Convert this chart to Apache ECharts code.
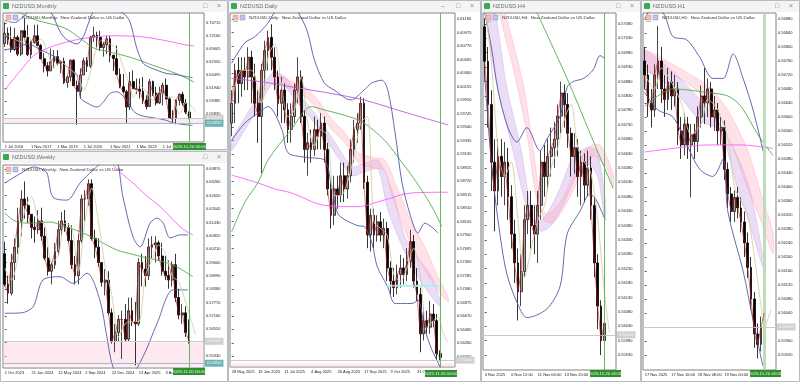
<!DOCTYPE html>
<html><head><meta charset="utf-8">
<script src="https://cdn.jsdelivr.net/npm/echarts@6/dist/echarts.min.js"></script>
<style>html,body{margin:0;padding:0;background:#dfe3e8}#c{width:800px;height:382px}</style>
</head><body><div id="c"></div><script>
// ================= DATA =================
const currentPrice = 0.5604, currentLabel = '0.56040';
const supportLevel = 0.5485, supportLabel = '0.54850';
const zoneTop = 0.5595;
const lastBarText = '2025.11.20 00:00';

// ---- Monthly (each candle = 2 months), [open, close, low, high]
const monthlyLabels = ['1 Jul 2016','1 Nov 2017','1 Mar 2019','1 Jul 2020','1 Nov 2021','1 Mar 2023','1 Jul 2024'];
const monthlyLabelIdx = [0,8,16,24,32,40,48];
const monthlyTicks = [0.74715,0.72160,0.69605,0.67050,0.64495,0.61940,0.59385,0.56830];
const monthlyOHLC = [
[0.7070,0.7270,0.7000,0.7485],[0.7270,0.7150,0.7040,0.7380],[0.7150,0.6950,0.6890,0.7400],[0.6950,0.7190,0.6920,0.7375],
[0.7190,0.6860,0.6820,0.7230],[0.6860,0.7320,0.6820,0.7320],[0.7320,0.7190,0.7180,0.7558],[0.7190,0.6850,0.6820,0.7435],
[0.6850,0.7090,0.6780,0.7120],[0.7090,0.7220,0.7060,0.7440],[0.7220,0.7030,0.7020,0.7440],[0.7030,0.6770,0.6760,0.7060],
[0.6770,0.6630,0.6500,0.6880],[0.6630,0.6530,0.6420,0.6700],[0.6530,0.6710,0.6530,0.6970],[0.6710,0.6810,0.6580,0.6940],
[0.6810,0.6680,0.6640,0.6940],[0.6680,0.6720,0.6480,0.6730],[0.6720,0.6300,0.6270,0.6790],[0.6300,0.6410,0.6200,0.6430],
[0.6410,0.6740,0.6320,0.6760],[0.6740,0.6240,0.6240,0.6760],[0.6240,0.6130,0.5470,0.6340],[0.6130,0.6450,0.5990,0.6580],
[0.6450,0.6730,0.6450,0.6790],[0.6730,0.6620,0.6510,0.6800],[0.6620,0.7190,0.6590,0.7220],[0.7190,0.7230,0.7100,0.7400],
[0.7230,0.7190,0.6940,0.7300],[0.7190,0.6990,0.6920,0.7320],[0.6990,0.7050,0.6810,0.7100],[0.7050,0.7160,0.6860,0.7220],
[0.7160,0.6840,0.6700,0.7220],[0.6840,0.6770,0.6530,0.6840],[0.6770,0.6460,0.6450,0.7030],[0.6460,0.6220,0.6190,0.6580],
[0.6220,0.6120,0.6100,0.6470],[0.6120,0.5820,0.5510,0.6160],[0.5820,0.6320,0.5760,0.6510],[0.6320,0.6180,0.6180,0.6540],
[0.6180,0.6170,0.6080,0.6380],[0.6170,0.6130,0.5990,0.6380],[0.6130,0.5960,0.5880,0.6410],[0.5960,0.5830,0.5770,0.6050],
[0.5830,0.6320,0.5830,0.6370],[0.6320,0.6090,0.6040,0.6340],[0.6090,0.5900,0.5850,0.6220],[0.5900,0.6090,0.5880,0.6220],
[0.6090,0.6250,0.5850,0.6300],[0.6250,0.5980,0.5970,0.6380],[0.5980,0.5600,0.5590,0.6020],[0.5600,0.5590,0.5520,0.5760],
[0.5590,0.5950,0.5480,0.5970],[0.5950,0.6070,0.5850,0.6090],[0.6070,0.5900,0.5850,0.6120],[0.5900,0.5720,0.5680,0.5980],
[0.5720,0.5604,0.5580,0.5730]];
const monthlyBBUpper = [[0,0.752],[3,0.748],[6,0.762],[9,0.778],[12,0.776],[14,0.769],[17,0.728],[19,0.714],[22,0.706],[24,0.722],[25,0.739],[27,0.770],[30,0.780],[33,0.772],[36,0.766],[38,0.750],[40,0.700],[42,0.668],[44,0.660],[46,0.655],[49,0.648],[52,0.646],[55,0.642],[57,0.640]];
const monthlyBBLower = [[0,0.694],[4,0.700],[7,0.706],[11,0.694],[16,0.678],[20,0.655],[22,0.645],[23,0.600],[25,0.590],[28,0.582],[30,0.592],[32,0.609],[34,0.612],[37,0.596],[39,0.575],[41,0.566],[44,0.562],[46,0.560],[49,0.556],[51,0.551],[55,0.547],[57,0.546]];
const monthlyGreen = [[2,0.775],[10,0.752],[18,0.738],[24,0.712],[27,0.698],[32,0.690],[38,0.680],[45,0.664],[52,0.648],[57.5,0.631]];
const monthlyMagenta = [[0,0.6155],[5,0.655],[9,0.684],[14,0.700],[19,0.710],[25,0.718],[32,0.722],[40,0.721],[44,0.718],[50,0.711],[55,0.704],[57.5,0.702]];
const monthlyTan = [[0,0.722],[2,0.720],[4,0.712],[6,0.710],[7,0.722],[9,0.706],[11,0.716],[13,0.690],[15,0.660],[17,0.672],[19,0.660],[21,0.650],[23,0.630],[24,0.615],[26,0.650],[28,0.700],[30,0.716],[32,0.706],[34,0.696],[36,0.660],[38,0.625],[39,0.600],[41,0.625],[43,0.612],[45,0.595],[47,0.612],[49,0.602],[51,0.600],[53,0.568],[55,0.590],[57,0.582],[58,0.572]];

// ---- Weekly (each candle = 2 weeks)
const weeklyLabels = ['1 Oct 2023','21 Jan 2024','12 May 2024','1 Sep 2024','22 Dec 2024','13 Apr 2025','3 Aug 2025'];
const weeklyLabelIdx = [0,8,16,24,32,40,48];
const weeklyTicks = [0.63870,0.63260,0.62650,0.62040,0.61430,0.60820,0.60210,0.59600,0.58990,0.58380,0.57770,0.57160,0.56550,0.55940,0.55330];
const weeklyOHLC = [
[0.6000,0.5860,0.5850,0.6055],[0.5860,0.5820,0.5772,0.5900],[0.5820,0.5960,0.5810,0.6000],[0.5960,0.6030,0.5880,0.6070],
[0.6030,0.6150,0.6000,0.6210],[0.6150,0.6250,0.6080,0.6290],[0.6250,0.6220,0.6160,0.6330],[0.6220,0.6180,0.6140,0.6260],
[0.6180,0.6120,0.6070,0.6180],[0.6120,0.6110,0.6050,0.6170],[0.6110,0.6150,0.6090,0.6200],[0.6150,0.6080,0.6060,0.6210],
[0.6080,0.5980,0.5970,0.6120],[0.5980,0.5920,0.5900,0.6030],[0.5920,0.5950,0.5860,0.5960],[0.5950,0.6010,0.5930,0.6050],
[0.6010,0.6110,0.5990,0.6150],[0.6110,0.6150,0.6080,0.6190],[0.6150,0.6120,0.6100,0.6200],[0.6120,0.6060,0.6050,0.6140],
[0.6060,0.5950,0.5930,0.6130],[0.5950,0.5900,0.5860,0.5990],[0.5900,0.6060,0.5860,0.6090],[0.6060,0.6250,0.6050,0.6270],
[0.6250,0.6250,0.6150,0.6290],[0.6250,0.6320,0.6220,0.6340],[0.6320,0.6070,0.6060,0.6340],[0.6070,0.6030,0.5980,0.6110],
[0.6030,0.5960,0.5940,0.6070],[0.5960,0.5870,0.5850,0.5960],[0.5870,0.5880,0.5810,0.5930],[0.5880,0.5730,0.5720,0.5920],
[0.5730,0.5600,0.5590,0.5750],[0.5600,0.5640,0.5550,0.5680],[0.5640,0.5700,0.5600,0.5720],[0.5700,0.5700,0.5520,0.5740],
[0.5700,0.5610,0.5600,0.5770],[0.5610,0.5740,0.5600,0.5800],[0.5740,0.5690,0.5670,0.5800],[0.5690,0.5680,0.5490,0.5780],
[0.5680,0.5960,0.5670,0.5980],[0.5960,0.5930,0.5850,0.6000],[0.5930,0.5900,0.5850,0.5990],[0.5900,0.6030,0.5880,0.6070],
[0.6030,0.6040,0.5980,0.6080],[0.6040,0.6050,0.5960,0.6080],[0.6050,0.5990,0.5970,0.6060],[0.5990,0.5920,0.5900,0.6050],
[0.5920,0.5900,0.5880,0.5990],[0.5900,0.5880,0.5840,0.5970],[0.5880,0.5950,0.5850,0.5965],[0.5950,0.5800,0.5780,0.6000],
[0.5800,0.5720,0.5700,0.5840],[0.5720,0.5730,0.5680,0.5770],[0.5730,0.5640,0.5620,0.5760],[0.5640,0.5604,0.5590,0.5700]];
const weeklyBBUpper = [[0,0.6323],[5,0.6369],[8.5,0.6396],[10.5,0.6390],[12.6,0.6369],[14.4,0.6259],[18.6,0.6245],[22.5,0.6323],[26.4,0.6382],[29.4,0.6420],[33,0.6430],[35.3,0.6259],[38.3,0.6077],[40.4,0.6031],[43.4,0.6140],[45.5,0.6163],[47.3,0.6140],[49.4,0.6072],[52.3,0.6086],[54.7,0.6086]];
const weeklyBBLower = [[0,0.5728],[5,0.5730],[8.5,0.5758],[11.4,0.5880],[16.5,0.5895],[20.4,0.5865],[24.6,0.5911],[28.4,0.5789],[30.5,0.5621],[32.3,0.5484],[34.4,0.5450],[37.5,0.5450],[41.3,0.5530],[45.5,0.5682],[50.3,0.5835],[54.7,0.5835]];
const weeklyGreen = [[0,0.6186],[3.7,0.6145],[8,0.6140],[13.5,0.6145],[18,0.6125],[23.4,0.6095],[28,0.6060],[33.5,0.6017],[38,0.5998],[41.3,0.5985],[45,0.5972],[48.5,0.5958],[52,0.5935],[56.2,0.5895]];
const weeklyMagenta = [[32.3,0.6405],[35,0.6365],[38.3,0.6323],[42,0.6270],[46.4,0.6215],[50,0.6160],[52.3,0.6124],[54.5,0.6100],[56.2,0.6086]];
const weeklyTan = [[0,0.5935],[2,0.5880],[4,0.5990],[6,0.6200],[8,0.6260],[10,0.6160],[12,0.6130],[14,0.5960],[16,0.5990],[18,0.6140],[20,0.6120],[22,0.5920],[24,0.6150],[26,0.6300],[28,0.6150],[30,0.5940],[32,0.5810],[34,0.5620],[36,0.5680],[38,0.5690],[40,0.5690],[42,0.5900],[44,0.5970],[46,0.6040],[48,0.6000],[50,0.5900],[52,0.5870],[54,0.5780],[56,0.5680],[57,0.5630]];

// ---- Daily (each candle = 2 trading days)
const dailyLabels = ['28 May 2025','19 Jun 2025','11 Jul 2025','4 Aug 2025','26 Aug 2025','17 Sep 2025','9 Oct 2025','31 Oct 2025'];
const dailyLabelIdx = [0,8,16,24,32,40,48,56];
const dailyTicks = [0.61180,0.60975,0.60770,0.60565,0.60360,0.60155,0.59950,0.59745,0.59540,0.59335,0.59130,0.58925,0.58720,0.58515,0.58310,0.58105,0.57900,0.57695,0.57490,0.57285,0.57080,0.56875,0.56670,0.56465,0.56260,0.56055];
const dailyOHLC = [
[0.5960,0.5990,0.5940,0.6010],[0.5990,0.6040,0.5960,0.6050],[0.6040,0.6020,0.5990,0.6060],[0.6020,0.6040,0.6000,0.6060],
[0.6040,0.6030,0.6010,0.6060],[0.6030,0.6060,0.6010,0.6075],[0.6060,0.6030,0.5990,0.6070],[0.6030,0.5990,0.5970,0.6050],
[0.5990,0.5970,0.5930,0.6010],[0.5970,0.6040,0.5884,0.6050],[0.6040,0.6070,0.6010,0.6085],[0.6070,0.6090,0.6040,0.6100],
[0.6090,0.6060,0.6040,0.6110],[0.6060,0.6030,0.6010,0.6075],[0.6030,0.5990,0.5970,0.6040],[0.5990,0.6010,0.5960,0.6030],
[0.6010,0.5980,0.5960,0.6020],[0.5980,0.5950,0.5930,0.5990],[0.5950,0.5970,0.5930,0.5990],[0.5970,0.6010,0.5960,0.6020],
[0.6010,0.6030,0.5990,0.6060],[0.6030,0.5970,0.5960,0.6040],[0.5970,0.5920,0.5900,0.5980],[0.5920,0.5930,0.5880,0.5945],
[0.5930,0.5920,0.5900,0.5950],[0.5920,0.5950,0.5910,0.5970],[0.5950,0.5940,0.5920,0.5965],[0.5940,0.5960,0.5920,0.5975],
[0.5960,0.5920,0.5900,0.5970],[0.5920,0.5860,0.5850,0.5930],[0.5860,0.5820,0.5800,0.5870],[0.5820,0.5860,0.5805,0.5880],
[0.5860,0.5850,0.5830,0.5880],[0.5850,0.5880,0.5840,0.5900],[0.5880,0.5860,0.5840,0.5900],[0.5860,0.5880,0.5845,0.5895],
[0.5880,0.5920,0.5870,0.5935],[0.5920,0.5950,0.5900,0.5965],[0.5950,0.5960,0.5930,0.5975],[0.5960,0.5990,0.5950,0.6000],
[0.5990,0.5870,0.5860,0.5998],[0.5870,0.5790,0.5770,0.5880],[0.5790,0.5820,0.5765,0.5830],[0.5820,0.5790,0.5770,0.5830],
[0.5790,0.5810,0.5780,0.5820],[0.5810,0.5790,0.5780,0.5825],[0.5790,0.5800,0.5770,0.5815],[0.5800,0.5740,0.5720,0.5810],
[0.5740,0.5720,0.5700,0.5750],[0.5720,0.5710,0.5696,0.5740],[0.5710,0.5730,0.5700,0.5745],[0.5730,0.5740,0.5710,0.5760],
[0.5740,0.5730,0.5715,0.5755],[0.5730,0.5750,0.5720,0.5770],[0.5750,0.5780,0.5740,0.5798],[0.5780,0.5720,0.5710,0.5790],
[0.5720,0.5700,0.5690,0.5740],[0.5700,0.5640,0.5612,0.5710],[0.5640,0.5660,0.5630,0.5680],[0.5660,0.5650,0.5640,0.5675],
[0.5650,0.5670,0.5640,0.5690],[0.5670,0.5660,0.5650,0.5685],[0.5660,0.5610,0.5600,0.5670],[0.5610,0.5604,0.5598,0.5615]];
const dailyBBUpper = [[0,0.6051],[4,0.6082],[7,0.6091],[11,0.6112],[14,0.6135],[18,0.6140],[21,0.6120],[23,0.6097],[25,0.6056],[28,0.6021],[31,0.6010],[36,0.5995],[40,0.6010],[42.4,0.6021],[45.4,0.6025],[47.2,0.6010],[49.4,0.5945],[51.5,0.5869],[54,0.5820],[56.3,0.5793],[58.4,0.5808],[62.4,0.5793]];
const dailyBBLower = [[0,0.5934],[4,0.5960],[8,0.5975],[11,0.5985],[15.2,0.5950],[17,0.5915],[22.2,0.5908],[28,0.5904],[30,0.5869],[32,0.5823],[34.3,0.5813],[38.2,0.5804],[40,0.5803],[42.4,0.5778],[44,0.5742],[47.2,0.5711],[49.4,0.5686],[54.5,0.5686],[56.3,0.5691],[58.4,0.5646],[60.5,0.5616],[62.4,0.5596],[63.5,0.5585]];
const dailyGreen = [[0,0.5795],[4,0.5840],[8,0.5870],[11,0.5904],[18,0.5950],[24,0.5985],[28,0.5980],[36,0.5969],[40,0.5960],[46,0.5935],[50,0.5910],[56,0.5869],[60.5,0.5833],[63.5,0.5803]];
const dailyMagentaUpper = [[0,0.6028],[10,0.6022],[18,0.6015],[30,0.6005],[40,0.5995],[50,0.5980],[58,0.5968],[65.5,0.5957]];
const dailyMagentaLower = [[0,0.5881],[8,0.5869],[13,0.5860],[18,0.5854],[28,0.5835],[38,0.5833],[46,0.5843],[54.5,0.5854],[65.5,0.5855]];
const dailyTan = [[0,0.5990],[3,0.6040],[6,0.6040],[9,0.5990],[11,0.6060],[13,0.6080],[15,0.6020],[17,0.5970],[19,0.5980],[21,0.6030],[23,0.5960],[25,0.5925],[27,0.5950],[29,0.5940],[31,0.5850],[33,0.5850],[35,0.5870],[37,0.5910],[39,0.5960],[41,0.5970],[43,0.5810],[45,0.5800],[47,0.5790],[49,0.5730],[51,0.5720],[53,0.5740],[55,0.5770],[57,0.5730],[59,0.5650],[61,0.5660],[62.4,0.5665],[64,0.5640],[65.4,0.5626]];
const dailyPinkTop = [[13.1,0.6038],[18.2,0.6023],[22.2,0.6015],[26.1,0.5995],[30.3,0.5965],[34.3,0.5945],[38.2,0.5915],[42.4,0.5908],[46.3,0.5904],[50.3,0.5858],[54.5,0.5808],[58.4,0.5772],[62.4,0.5726],[65.4,0.5696]];
const dailyPinkBottom = [[13.1,0.6026],[18.2,0.6010],[22.2,0.6000],[26.1,0.5980],[30.3,0.5950],[34.3,0.5930],[38.2,0.5900],[42.4,0.5892],[46.3,0.5888],[48.5,0.5848],[54.5,0.5772],[58.4,0.5737],[62.4,0.5706],[65.4,0.5688]];
const dailyVioletTop = [[0,0.5934],[4,0.5969],[8,0.6000],[12.2,0.6036],[16.1,0.6030],[20,0.6005],[24.3,0.5980],[28.2,0.5954],[32.1,0.5924],[36.4,0.5894],[40.3,0.5899],[44.2,0.5904],[48.5,0.5858],[52.4,0.5787],[56.3,0.5756],[60.5,0.5726],[63,0.5691]];
const dailyVioletBottom = [[0,0.5918],[4,0.5950],[8,0.5982],[12.2,0.6018],[16.1,0.6014],[20,0.5990],[24.3,0.5965],[28.2,0.5938],[32.1,0.5908],[36.4,0.5880],[40.3,0.5886],[44.2,0.5890],[47.2,0.5828],[52.4,0.5763],[56.3,0.5726],[60.5,0.5696],[63,0.5681]];
const dailyCyanLevel = [[47,0.5713],[62.6,0.5713]];

// ---- H4 (each candle = 2 bars)
const h4Labels = ['3 Nov 2025','6 Nov 12:00','11 Nov 04:00','13 Nov 20:00'];
const h4LabelIdx = [0,8,16,24];
const h4Ticks = [0.57080,0.57030,0.56980,0.56930,0.56880,0.56830,0.56780,0.56730,0.56680,0.56630,0.56580,0.56530,0.56480,0.56430,0.56380,0.56330,0.56280,0.56230,0.56180,0.56130,0.56080,0.56030,0.55980,0.55930];
const h4OHLC = [
[0.5707,0.5695,0.5688,0.5710],[0.5695,0.5680,0.5672,0.5700],[0.5680,0.5660,0.5650,0.5685],[0.5660,0.5650,0.5636,0.5668],
[0.5650,0.5662,0.5645,0.5668],[0.5662,0.5655,0.5648,0.5668],[0.5655,0.5660,0.5645,0.5667],[0.5660,0.5648,0.5640,0.5665],
[0.5648,0.5635,0.5630,0.5652],[0.5635,0.5625,0.5618,0.5640],[0.5625,0.5615,0.5605,0.5630],[0.5615,0.5622,0.5610,0.5628],
[0.5622,0.5640,0.5620,0.5645],[0.5640,0.5645,0.5635,0.5650],[0.5645,0.5638,0.5630,0.5650],[0.5638,0.5635,0.5628,0.5645],
[0.5635,0.5645,0.5625,0.5650],[0.5645,0.5660,0.5640,0.5664],[0.5660,0.5655,0.5648,0.5666],[0.5655,0.5662,0.5650,0.5668],
[0.5662,0.5665,0.5655,0.5672],[0.5665,0.5668,0.5658,0.5674],[0.5668,0.5676,0.5662,0.5680],[0.5676,0.5684,0.5670,0.5688],
[0.5684,0.5680,0.5672,0.5687],[0.5680,0.5670,0.5665,0.5684],[0.5670,0.5662,0.5655,0.5672],[0.5662,0.5665,0.5656,0.5670],
[0.5665,0.5655,0.5648,0.5668],[0.5655,0.5660,0.5645,0.5664],[0.5660,0.5652,0.5646,0.5663],[0.5652,0.5658,0.5648,0.5664],
[0.5658,0.5645,0.5640,0.5662],[0.5645,0.5625,0.5620,0.5648],[0.5625,0.5610,0.5602,0.5628],[0.5610,0.5598,0.5593,0.5612],
[0.5598,0.5604,0.5590,0.5607]];
const h4BBUpper = [[0,0.5712],[2,0.5700],[4,0.5685],[7,0.5672],[9.7,0.5667],[12.7,0.5672],[16.6,0.5664],[18.7,0.5668],[22.7,0.5676],[24.8,0.5686],[26.6,0.5688],[29.6,0.5689],[32.6,0.5692],[34.7,0.5697],[36.2,0.5696]];
const h4BBLower = [[0,0.5690],[2,0.5660],[4,0.5640],[6.7,0.5621],[10.6,0.5609],[12.7,0.5606],[18.7,0.5609],[22.7,0.5617],[24.8,0.5635],[28.7,0.5643],[31.7,0.5649],[33.5,0.5647],[36.2,0.5640]];
const h4Green = [[15.7,0.5712],[24.8,0.5689],[31.7,0.5670],[38.6,0.5651]];
const h4Tan = [[0,0.5715],[2,0.5695],[4,0.5665],[6,0.5655],[8,0.5660],[10,0.5640],[12,0.5620],[14,0.5630],[16,0.5640],[18,0.5645],[20,0.5658],[22,0.5665],[24,0.5675],[26,0.5680],[28,0.5665],[30,0.5660],[32,0.5656],[34,0.5640],[36,0.5615],[37.5,0.5601]];
const h4PinkTop = [[4.5,0.5712],[8.5,0.5693],[12.7,0.5670],[15.7,0.5647],[18.7,0.5642],[22.7,0.5646],[26.6,0.5655],[30.8,0.5665],[34.7,0.5666],[38.6,0.5656]];
const h4PinkBottom = [[6,0.5712],[11.6,0.5687],[14.7,0.5664],[17.7,0.5640],[20.7,0.5639],[24.8,0.5646],[28.7,0.5655],[32.6,0.5662],[36.7,0.5658],[38.6,0.5651]];
const h4VioletTop = [[0.5,0.5712],[3.7,0.5687],[8.5,0.5664],[12.7,0.5644],[15.7,0.5639],[18.7,0.5642],[22.7,0.5651],[26.6,0.5662],[30.8,0.5665],[33.7,0.5664],[36.2,0.5648]];
const h4VioletBottom = [[3,0.5712],[6.5,0.5687],[11,0.5664],[14.5,0.5640],[17,0.5636],[20,0.5638],[24,0.5646],[28,0.5656],[31.5,0.5659],[34,0.5655],[36.2,0.5640]];

// ---- H1 (each candle = 2 bars)
const h1Labels = ['17 Nov 2025','17 Nov 16:00','18 Nov 08:00','19 Nov 00:00'];
const h1LabelIdx = [0,8,16,24];
const h1Ticks = [0.56880,0.56840,0.56800,0.56760,0.56720,0.56680,0.56640,0.56600,0.56560,0.56520,0.56480,0.56440,0.56400,0.56360,0.56320,0.56280,0.56240,0.56200,0.56160,0.56120,0.56080,0.56040,0.56000,0.55960,0.55920];
const h1OHLC = [
[0.5676,0.5672,0.5668,0.5680],[0.5672,0.5664,0.5660,0.5675],[0.5664,0.5662,0.5657,0.5668],[0.5662,0.5672,0.5660,0.5675],
[0.5672,0.5676,0.5668,0.5686],[0.5676,0.5668,0.5664,0.5680],[0.5668,0.5665,0.5660,0.5672],[0.5665,0.5670,0.5662,0.5674],
[0.5670,0.5666,0.5662,0.5673],[0.5666,0.5668,0.5663,0.5672],[0.5668,0.5656,0.5652,0.5670],[0.5656,0.5652,0.5648,0.5660],
[0.5652,0.5658,0.5649,0.5661],[0.5658,0.5652,0.5648,0.5660],[0.5652,0.5655,0.5637,0.5658],[0.5655,0.5653,0.5648,0.5658],
[0.5653,0.5660,0.5650,0.5663],[0.5660,0.5666,0.5657,0.5669],[0.5666,0.5664,0.5658,0.5674],[0.5664,0.5668,0.5660,0.5671],
[0.5668,0.5660,0.5657,0.5670],[0.5660,0.5662,0.5656,0.5666],[0.5662,0.5656,0.5652,0.5664],[0.5656,0.5657,0.5652,0.5660],
[0.5657,0.5645,0.5642,0.5659],[0.5645,0.5638,0.5634,0.5647],[0.5638,0.5633,0.5630,0.5640],[0.5633,0.5637,0.5630,0.5639],
[0.5637,0.5634,0.5631,0.5640],[0.5634,0.5630,0.5627,0.5637],[0.5630,0.5624,0.5620,0.5633],[0.5624,0.5617,0.5614,0.5627],
[0.5617,0.5608,0.5605,0.5620],[0.5608,0.5598,0.5594,0.5610],[0.5598,0.5595,0.5591,0.5601],[0.5595,0.5600,0.5593,0.5603],
[0.5600,0.5604,0.5599,0.5607]];
const h1BBUpper = [[0,0.5688],[3,0.5692],[6,0.5689],[8.5,0.5683],[12.7,0.5682],[16.6,0.5677],[20.5,0.5671],[23.6,0.5671],[26.6,0.5678],[29.6,0.5671],[32.6,0.5662],[36.2,0.5648]];
const h1BBLower = [[0,0.5667],[4,0.5662],[8.5,0.5660],[12.7,0.5652],[16.6,0.5645],[20.5,0.5643],[23.6,0.5648],[25,0.5633],[29.6,0.5616],[32.6,0.5602],[35.5,0.5589]];
const h1Green = [[0,0.5663],[8.5,0.5668],[18.8,0.5667],[25,0.5666],[29,0.5663],[34,0.5655],[38.6,0.5649]];
const h1Magenta = [[0,0.5650],[8.5,0.5651],[18.8,0.5652],[29,0.5652],[38.6,0.5651]];
const h1Tan = [[0,0.5672],[3,0.5668],[5,0.5674],[8,0.5670],[11,0.5664],[14,0.5655],[17,0.5658],[19,0.5665],[22,0.5662],[25,0.5654],[27,0.5640],[29,0.5636],[31,0.5632],[33,0.5620],[35,0.5606],[36,0.5600],[38,0.5605]];
const h1PinkTop = [[0,0.5679],[8.5,0.5675],[18.8,0.5669],[25,0.5662],[30.8,0.5651],[34.7,0.5639],[38.6,0.5627]];
const h1PinkBottom = [[0,0.5673],[8.5,0.5672],[18.8,0.5665],[25,0.5655],[30.8,0.5640],[34.7,0.5631],[38.6,0.5621]];
const h1VioletTop = [[0,0.5679],[8.5,0.5673],[16.6,0.5665],[22.7,0.5658],[27.8,0.5649],[31.7,0.5639],[35.6,0.5620]];
const h1VioletBottom = [[0,0.5674],[8.5,0.5668],[16.6,0.5659],[22.7,0.5656],[27.8,0.5640],[31.7,0.5629],[35.6,0.5617]];

// ================= STYLE / LAYOUT =================
const FONT = '"Liberation Sans", Arial, sans-serif';
const C = {bb:'#5757a8', green:'#4fae4f', magenta:'#ff5cff', magenta2:'#c055dd', tan:'#d8cea6', red:'#cc1010',
  pinkFill:'rgba(255,170,190,0.35)', pinkStroke:'rgba(255,130,160,0.45)', violetFill:'rgba(195,150,228,0.32)', violetStroke:'rgba(170,110,215,0.4)'};

const panels = [
 {title:'NZDUSD,Monthly', caption:'NZDUSD,Monthly:  New Zealand Dollar vs US Dollar', win:[0,0,228,150], grid:[3,13,201,129], slots:61,
  yMin:0.51327, yMax:0.76680, ticks:monthlyTicks, ohlc:monthlyOHLC, lblIdx:monthlyLabelIdx, lbl:monthlyLabels, zone:true, support:true,
  lines:[[monthlyMagenta,C.magenta],[monthlyGreen,C.green],[monthlyBBUpper,C.bb],[monthlyBBLower,C.bb],[monthlyTan,C.tan]], ribbons:[],
  dateBox:[173,143,33,7], btn:['','□','×'], vline:{color:'#63b863',w:1}},
 {title:'NZDUSD,Weekly', caption:'NZDUSD,Weekly:  New Zealand Dollar vs US Dollar', win:[0,151,228,231], grid:[3,165,201,203], slots:60,
  yMin:0.54782, yMax:0.64053, ticks:weeklyTicks, ohlc:weeklyOHLC, lblIdx:weeklyLabelIdx, lbl:weeklyLabels, zone:true, support:true,
  lines:[[weeklyMagenta,C.magenta],[weeklyGreen,C.green],[weeklyBBUpper,C.bb],[weeklyBBLower,C.bb],[weeklyTan,C.tan]], ribbons:[],
  dateBox:[173,368,32,7], btn:['','□','×'], vline:{color:'#63b863',w:1}},
 {title:'NZDUSD,Daily', caption:'NZDUSD,Daily:  New Zealand Dollar vs US Dollar', win:[228,0,253,382], grid:[230,13,225,354], slots:68,
  yMin:0.55896, yMax:0.61271, ticks:dailyTicks, ohlc:dailyOHLC, lblIdx:dailyLabelIdx, lbl:dailyLabels, zone:true, support:false,
  lines:[[dailyMagentaUpper,C.magenta2],[dailyMagentaLower,C.magenta],[dailyGreen,C.green],[dailyBBUpper,C.bb],[dailyBBLower,C.bb],[dailyTan,C.tan]],
  ribbons:[[dailyVioletTop,dailyVioletBottom,'v'],[dailyPinkTop,dailyPinkBottom,'p']], cyan:dailyCyanLevel,
  dateBox:[425,370,32,7], btn:['–','□','×'], vline:{color:'#63b863',w:1}},
 {title:'NZDUSD,H4', caption:'NZDUSD,H4:  New Zealand Dollar vs US Dollar', win:[481,0,160,382], grid:[483,13,133,357], slots:40,
  yMin:0.55878, yMax:0.57118, ticks:h4Ticks, ohlc:h4OHLC, lblIdx:h4LabelIdx, lbl:h4Labels, zone:false, support:false,
  lines:[[h4Green,C.green],[h4BBUpper,C.bb],[h4BBLower,C.bb],[h4Tan,C.tan]],
  ribbons:[[h4VioletTop,h4VioletBottom,'v'],[h4PinkTop,h4PinkBottom,'p']],
  dateBox:[590,370,31,7], btn:['','□','×'], vline:{color:'#63b863',w:1}},
 {title:'NZDUSD,H1', caption:'NZDUSD,H1:  New Zealand Dollar vs US Dollar', win:[641,0,159,382], grid:[643,13,133,357], slots:40,
  yMin:0.55877, yMax:0.56897, ticks:h1Ticks, ohlc:h1OHLC, lblIdx:h1LabelIdx, lbl:h1Labels, zone:false, support:false,
  lines:[[h1Magenta,C.magenta],[h1Green,C.green],[h1BBUpper,C.bb],[h1BBLower,C.bb],[h1Tan,C.tan]],
  ribbons:[[h1VioletTop,h1VioletBottom,'v'],[h1PinkTop,h1PinkBottom,'p']],
  dateBox:[750,370,31,7], btn:['','□','×'], vline:{color:'#b9deb9',w:3}}
];

// ================= BUILD =================
const grids=[], xAxes=[], yAxes=[], series=[], graphics=[];
const N = panels.length;

function ribbonSeries(gi, up, lo, kind){
  const fill = kind==='p'?C.pinkFill:C.violetFill, stroke = kind==='p'?C.pinkStroke:C.violetStroke;
  return {type:'custom', xAxisIndex:N+gi, yAxisIndex:gi, data:[[0,panels[gi].yMin]], silent:true, z:1, animation:false,
    renderItem:(params, api)=>{
      const pts = up.map(p=>api.coord(p)).concat(lo.slice().reverse().map(p=>api.coord(p)));
      const cs = params.coordSys;
      return {type:'group', clipPath:{type:'rect', shape:{x:cs.x,y:cs.y,width:cs.width,height:cs.height}},
        children:[{type:'polygon', shape:{points:pts, smooth:0.25}, style:{fill, stroke, lineWidth:0.6}}]};
    }};
}

panels.forEach((p,i)=>{
  const [gl,gt,gw,gh]=p.grid;
  grids.push({left:gl, top:gt, width:gw, height:gh, show:true, borderColor:'#808080', borderWidth:1, backgroundColor:'rgba(0,0,0,0)'});
  xAxes[i] = {type:'category', gridIndex:i, data:Array.from({length:p.slots},(_,k)=>k), boundaryGap:true,
    axisLine:{show:false}, axisTick:{show:false}, splitLine:{show:false},
    axisLabel:{interval:(idx)=>p.lblIdx.includes(idx), formatter:(v,idx)=>{const k=p.lblIdx.indexOf(idx);return k>=0?p.lbl[k]:'';},
      showMinLabel:true, showMaxLabel:true, hideOverlap:false,
      fontSize:4, color:'#222', align:'left', margin:3, fontFamily:FONT}};
  xAxes[N+i] = {type:'value', gridIndex:i, min:-0.5, max:p.slots-0.5, show:false};
  yAxes[i] = {type:'value', gridIndex:i, position:'right', min:p.yMin, max:p.yMax, splitLine:{show:false}, axisLine:{show:false},
    axisTick:{show:true, length:2, customValues:p.ticks, lineStyle:{color:'#555', width:1}},
    axisLabel:{customValues:p.ticks, formatter:v=>v.toFixed(5), fontSize:4, color:'#222', margin:2, fontFamily:FONT}};

  p.ribbons.forEach(r=>series.push(ribbonSeries(i, r[0], r[1], r[2])));

  const ml = [
    {yAxis:currentPrice, lineStyle:{color:'#c9c9c9', width:1, type:'solid'},
     label:{show:true, position:'end', distance:1, formatter:currentLabel, backgroundColor:'#cfcfcf', color:'#f6f6f6', fontSize:4, padding:[1.5,2], fontFamily:FONT}},
    {xAxis:p.ohlc.length-1, lineStyle:{color:p.vline.color, width:p.vline.w, type:'solid'}, label:{show:false}}
  ];
  if (p.support) ml.push({yAxis:supportLevel, lineStyle:{color:'#8fc4c8', width:1, type:'solid'},
     label:{show:true, position:'end', distance:1, formatter:supportLabel, backgroundColor:'#6fb2b6', color:'#eefafa', fontSize:4, padding:[1.5,2], fontFamily:FONT}});
  const cs = {type:'candlestick', xAxisIndex:i, yAxisIndex:i, data:p.ohlc, barWidth:2.3, z:3, animation:false, silent:true,
    itemStyle:{color:'#a0a0a0', color0:'#000', borderColor:'#1a1a1a', borderColor0:'#000', borderWidth:0.8},
    markLine:{symbol:'none', silent:true, animation:false, data:ml}};
  if (p.zone) cs.markArea = {silent:true, itemStyle:{color:'rgba(255,205,222,0.45)'}, data:[[{yAxis:supportLevel},{yAxis:zoneTop}]]};
  series.push(cs);

  p.lines.forEach(l=>series.push({type:'line', xAxisIndex:N+i, yAxisIndex:i, data:l[0], symbol:'none', smooth:0.3, silent:true, animation:false,
    lineStyle:{color:l[1], width:0.9}, z:4}));
  if (p.cyan) series.push({type:'line', xAxisIndex:N+i, yAxisIndex:i, data:p.cyan, symbol:'none', silent:true, animation:false, lineStyle:{color:'#a8f0f2', width:2}, z:4});
  series.push({type:'line', xAxisIndex:i, yAxisIndex:i, data:p.ohlc.map(d=>d[1]), symbol:'none', silent:true, animation:false,
    lineStyle:{color:C.red, width:0.6}, z:5});

  // window chrome
  const [wx,wy,ww,wh]=p.win;
  graphics.push({type:'rect', shape:{x:wx+0.5,y:wy+0.5,width:ww-1,height:wh-1}, style:{fill:'#ffffff', stroke:'#b4bcc6', lineWidth:1}, z:-20, silent:true});
  graphics.push({type:'rect', shape:{x:wx+1,y:wy+1,width:ww-2,height:11}, style:{fill:'#f4f4f4'}, z:-19, silent:true});
  graphics.push({type:'rect', shape:{x:wx+3,y:wy+3,width:6,height:6,r:1}, style:{fill:'#3ea84e'}, z:50, silent:true});
  graphics.push({type:'text', style:{x:wx+12,y:wy+6.5,text:p.title, fill:'#6a6a6a', font:'5.6px '+FONT, verticalAlign:'middle'}, z:50, silent:true});
  const bx=[wx+ww-38, wx+ww-23, wx+ww-9];
  p.btn.forEach((b,k)=>{ if(b) graphics.push({type:'text', style:{x:bx[k],y:wy+6.5,text:b,fill:'#8a8a8a',font:'7px '+FONT,align:'center',verticalAlign:'middle'}, z:50, silent:true}); });
  // caption inside chart
  graphics.push({type:'rect', shape:{x:gl+3,y:gt+2,width:5,height:5}, style:{fill:'#f4b8b8', stroke:'#d88', lineWidth:0.5}, z:50, silent:true});
  graphics.push({type:'rect', shape:{x:gl+10,y:gt+2,width:5,height:5}, style:{fill:'#b8c8f4', stroke:'#88a', lineWidth:0.5}, z:50, silent:true});
  graphics.push({type:'rect', shape:{x:gl+3,y:gt+8,width:5,height:1}, style:{fill:'#9ad49a'}, z:50, silent:true});
  graphics.push({type:'text', style:{x:gl+19,y:gt+4.5,text:p.caption, fill:'#333', font:'4.4px '+FONT, verticalAlign:'middle'}, z:50, silent:true});
  // last bar time box
  const [dx,dy,dw,dh]=p.dateBox;
  graphics.push({type:'rect', shape:{x:dx,y:dy,width:dw,height:dh}, style:{fill:'#2f8f2f'}, z:60, silent:true});
  graphics.push({type:'text', style:{x:dx+dw/2,y:dy+dh/2+0.5,text:lastBarText, fill:'#e9ffe9', font:'4.4px '+FONT, align:'center', verticalAlign:'middle'}, z:61, silent:true});
});

const chart = echarts.init(document.getElementById('c'), null, {renderer:'canvas'});
chart.setOption({animation:false, backgroundColor:'#dfe3e8', grid:grids, xAxis:xAxes, yAxis:yAxes, series, graphic:{elements:graphics}});
</script></body></html>
